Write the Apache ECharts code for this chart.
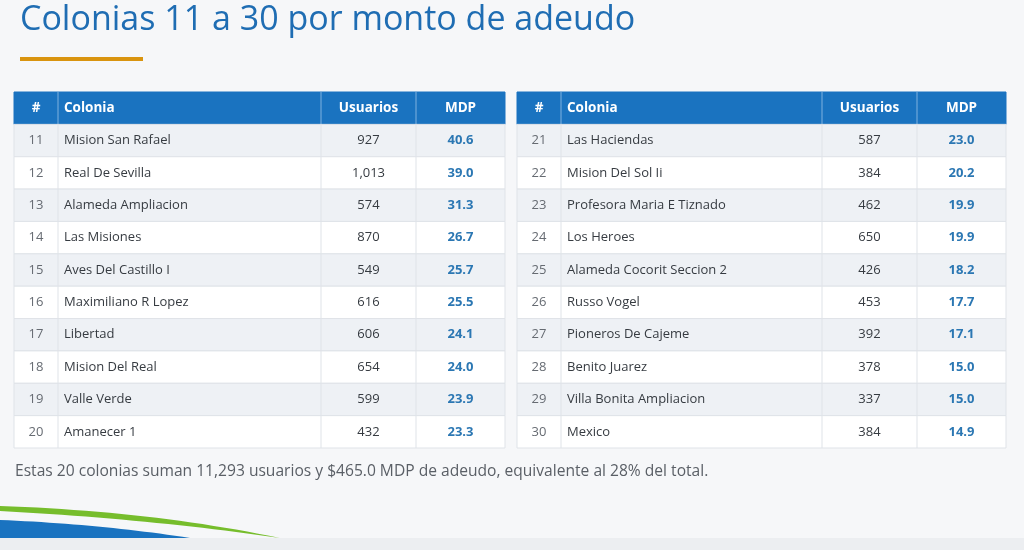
<!DOCTYPE html>
<html lang="es">

<head>
  <meta charset="UTF-8">
  <script src="https://cdn.jsdelivr.net/npm/echarts@6/dist/echarts.min.js"></script>
  <title>Colonias 11 a 30</title>
  <style>
    html,
    body,
    main {
      height: 100%;
      width: 100%;
      padding: 0;
      margin: 0;
    }
  </style>
</head>

<body>
  <main></main>
</body>
<script>
  const headers = ['#', 'Colonia', 'Usuarios', 'MDP']

  const rankLeft = [11, 12, 13, 14, 15, 16, 17, 18, 19, 20]
  const namesLeft = ['Mision San Rafael', 'Real De Sevilla', 'Alameda Ampliacion', 'Las Misiones', 'Aves Del Castillo I',
    'Maximiliano R Lopez', 'Libertad', 'Mision Del Real', 'Valle Verde', 'Amanecer 1']
  const usersLeft = [927, 1013, 574, 870, 549, 616, 606, 654, 599, 432]
  const mdpLeft = [40.6, 39.0, 31.3, 26.7, 25.7, 25.5, 24.1, 24.0, 23.9, 23.3]

  const rankRight = [21, 22, 23, 24, 25, 26, 27, 28, 29, 30]
  const namesRight = ['Las Haciendas', 'Mision Del Sol Ii', 'Profesora Maria E Tiznado', 'Los Heroes', 'Alameda Cocorit Seccion 2',
    'Russo Vogel', 'Pioneros De Cajeme', 'Benito Juarez', 'Villa Bonita Ampliacion', 'Mexico']
  const usersRight = [587, 384, 462, 650, 426, 453, 392, 378, 337, 384]
  const mdpRight = [23.0, 20.2, 19.9, 19.9, 18.2, 17.7, 17.1, 15.0, 15.0, 14.9]

  const note = 'Estas 20 colonias suman 11,293 usuarios y $465.0 MDP de adeudo, equivalente al 28% del total.'

  const FONT = '"Open Sans", "Noto Sans", sans-serif'

  // one custom series per table; row 0 is the header band
  function tableSeries(idx, ranks, names, users, mdp, edges) {
    const rows = [headers].concat(ranks.map((r, i) => [
      String(r), names[i], users[i].toLocaleString('en-US'), mdp[i].toFixed(1)
    ]))
    return {
      type: 'custom',
      xAxisIndex: idx,
      yAxisIndex: idx,
      data: rows.map((_, i) => [0, i]),
      encode: { x: 0, y: 1 },
      silent: true,
      renderItem: (params, api) => {
        const r = api.value(1)
        const cells = rows[r]
        const cy = api.coord([0, r])[1]
        const h = api.size([0, 1])[1]
        const xs = edges.map((e) => api.coord([e, r])[0])
        const top = cy - h / 2
        const children = []
        const isHead = r === 0
        children.push({
          type: 'rect',
          shape: { x: xs[0], y: top, width: xs[4] - xs[0], height: h },
          style: {
            fill: isHead ? '#1a73c0' : (r % 2 === 1 ? '#eef1f5' : '#ffffff'),
            stroke: isHead ? '#1a73c0' : '#dfe3e8',
            lineWidth: 1
          }
        })
        for (let c = 1; c < 4; c++) {
          children.push({
            type: 'line',
            shape: { x1: xs[c], y1: top, x2: xs[c], y2: top + h },
            style: { stroke: isHead ? '#7fb2df' : '#dfe3e8', lineWidth: 1 }
          })
        }
        for (let c = 0; c < 4; c++) {
          const left = c === 1
          let fill = '#363b41'
          let weight = 'normal'
          if (isHead) { fill = '#ffffff'; weight = 'bold' }
          else if (c === 0) fill = '#666b72'
          else if (c === 3) { fill = '#2b77b3'; weight = 'bold' }
          children.push({
            type: 'text',
            style: {
              text: cells[c],
              x: left ? xs[1] + 6 : (xs[c] + xs[c + 1]) / 2,
              y: cy,
              align: left ? 'left' : 'center',
              verticalAlign: 'middle',
              fill: fill,
              fontFamily: FONT,
              fontSize: isHead ? 13.5 : 13,
              fontWeight: weight
            }
          })
        }
        return { type: 'group', children: children }
      }
    }
  }

  // decorative swoosh outline at the bottom-left corner
  function quad(p0, p1, p2, n) {
    const pts = []
    for (let i = 0; i <= n; i++) {
      const t = i / n
      pts.push([
        (1 - t) * (1 - t) * p0[0] + 2 * (1 - t) * t * p1[0] + t * t * p2[0],
        (1 - t) * (1 - t) * p0[1] + 2 * (1 - t) * t * p1[1] + t * t * p2[1]
      ])
    }
    return pts
  }
  const bluePts = quad([0, 520], [100, 524], [190, 538], 24).concat([[0, 538]])
  const greenPts = quad([0, 506], [150, 511], [280, 538], 24).concat(quad([280, 538], [150, 519], [0, 511], 24))

  const cats = ['h'].concat(rankLeft.map(String))

  const option = {
    backgroundColor: '#f6f7f9',
    animation: false,
    title: [
      {
        text: 'Colonias 11 a 30 por monto de adeudo',
        left: 15,
        top: -2,
        textStyle: { color: '#1f6db3', fontSize: 34, fontWeight: 'normal', fontFamily: FONT }
      },
      {
        text: note,
        left: 10,
        top: 459,
        textStyle: { color: '#5a5f66', fontSize: 15.6, fontWeight: 'normal', fontFamily: FONT }
      }
    ],
    grid: [
      { left: 14, top: 92, width: 491, height: 356 },
      { left: 517, top: 92, width: 489, height: 356 }
    ],
    xAxis: [
      { type: 'value', gridIndex: 0, min: 0, max: 491, show: false },
      { type: 'value', gridIndex: 1, min: 0, max: 489, show: false }
    ],
    yAxis: [
      { type: 'category', gridIndex: 0, data: cats, inverse: true, show: false },
      { type: 'category', gridIndex: 1, data: cats, inverse: true, show: false }
    ],
    graphic: [
      { type: 'rect', shape: { x: 20, y: 57, width: 123, height: 4 }, style: { fill: '#d9940f' } },
      { type: 'rect', shape: { x: 0, y: 538, width: 1024, height: 12 }, style: { fill: '#eceef1' } },
      { type: 'polygon', shape: { points: bluePts }, style: { fill: '#1a73c0' } },
      { type: 'polygon', shape: { points: greenPts }, style: { fill: '#76bd2c' } }
    ],
    series: [
      tableSeries(0, rankLeft, namesLeft, usersLeft, mdpLeft, [0, 44, 307, 402, 491]),
      tableSeries(1, rankRight, namesRight, usersRight, mdpRight, [0, 44, 305, 400, 489])
    ]
  }

  const ins = echarts.init(document.getElementsByTagName('main')[0])
  ins.setOption(option)
</script>

</html>
